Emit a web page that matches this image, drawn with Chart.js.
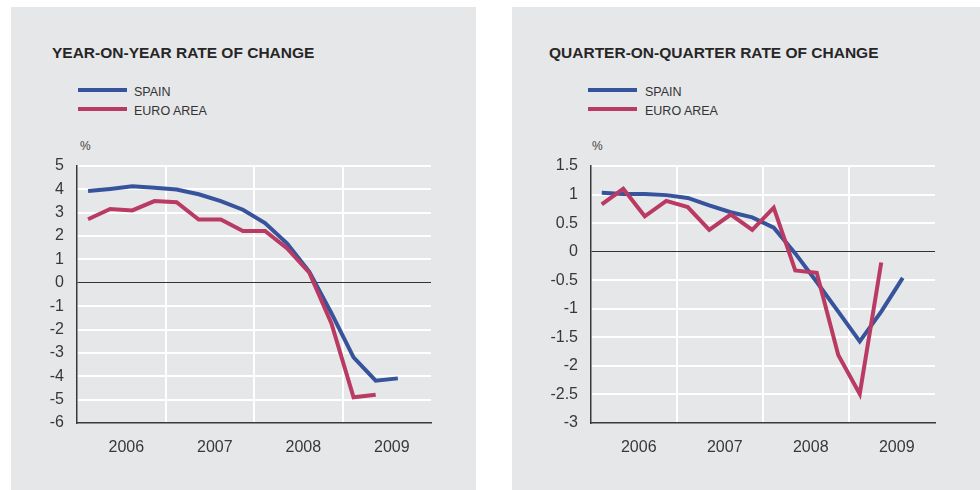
<!DOCTYPE html>
<html>
<head>
<meta charset="utf-8">
<script src="https://cdn.jsdelivr.net/npm/chart.js@4.4.1/dist/chart.umd.min.js"></script>
<style>
  body { margin:0; width:980px; height:490px; background:#fff; position:relative; overflow:hidden;
         font-family:'Liberation Sans', Arial, sans-serif; }
  .panel { position:absolute; top:7px; height:483px; background:#e6e7e9; }
  .title { position:absolute; top:44px; font-size:15.5px; font-weight:bold; color:#262626; white-space:nowrap; line-height:18px; }
  .key { position:absolute; width:49px; height:4px; }
  .keytext { position:absolute; font-size:12.5px; color:#333; line-height:14px; white-space:nowrap; }
  .unit { position:absolute; top:139px; font-size:12px; color:#444; }
  canvas { position:absolute; top:140px; }
</style>
</head>
<body>
<div class="panel" style="left:11px;width:465px"></div>
<div class="panel" style="left:512px;width:468px"></div>

<div class="title" style="left:52px">YEAR-ON-YEAR RATE OF CHANGE</div>
<div class="key" style="left:78px;top:88px;background:#36539c"></div>
<div class="keytext" style="left:134px;top:85px">SPAIN</div>
<div class="key" style="left:78px;top:107px;background:#b93a63"></div>
<div class="keytext" style="left:134px;top:104px">EURO AREA</div>
<div class="unit" style="left:80px">%</div>

<div class="title" style="left:549px">QUARTER-ON-QUARTER RATE OF CHANGE</div>
<div class="key" style="left:588px;top:88px;background:#36539c"></div>
<div class="keytext" style="left:645px;top:85px">SPAIN</div>
<div class="key" style="left:588px;top:107px;background:#b93a63"></div>
<div class="keytext" style="left:645px;top:104px">EURO AREA</div>
<div class="unit" style="left:592px">%</div>

<canvas id="yoy" width="465" height="330" style="left:11px"></canvas>
<canvas id="qoq" width="468" height="330" style="left:512px"></canvas>

<script>
// quarters 2006 Q1 .. 2009 Q4, one year label per four quarters
const quarters = ['2006 Q1','2006 Q2','2006 Q3','2006 Q4','2007 Q1','2007 Q2','2007 Q3','2007 Q4',
                  '2008 Q1','2008 Q2','2008 Q3','2008 Q4','2009 Q1','2009 Q2','2009 Q3','2009 Q4'];
const years = ['2006', '2007', '2008', '2009'];

// year-on-year rate of change (%)
const yoySpain = [3.93, 4.02, 4.13, 4.07, 3.99, 3.79, 3.5, 3.13, 2.56, 1.68, 0.47, -1.3, -3.19, -4.19, -4.09];
const yoyEuro  = [2.72, 3.16, 3.1, 3.5, 3.45, 2.71, 2.71, 2.22, 2.22, 1.47, 0.43, -1.74, -4.9, -4.79];

// quarter-on-quarter rate of change (%)
const qoqSpain = [1.03, 1.01, 1.01, 0.99, 0.94, 0.81, 0.69, 0.6, 0.42, -0.03, -0.53, -1.05, -1.57, -1.05, -0.46];
const qoqEuro  = [0.83, 1.1, 0.62, 0.89, 0.78, 0.38, 0.65, 0.38, 0.77, -0.33, -0.37, -1.81, -2.49, -0.19];

const BLUE = '#36539c';
const RED = '#b93a63';
const AXIS = '#3a3a3a';

Chart.defaults.font.family = "'Liberation Sans', Arial, sans-serif";

function makeChart(id, spain, euro, yMin, yMax, yStep, yWidth) {
  return new Chart(document.getElementById(id), {
    type: 'line',
    data: {
      labels: quarters,
      datasets: [
        { label: 'EURO AREA', data: euro, borderColor: RED, borderWidth: 4, pointRadius: 0, tension: 0, order: 0 },
        { label: 'SPAIN', data: spain, borderColor: BLUE, borderWidth: 4, pointRadius: 0, tension: 0, order: 1 }
      ]
    },
    options: {
      responsive: false,
      animation: false,
      devicePixelRatio: 1,
      layout: { padding: { top: 26, right: 45, left: 0, bottom: 0 } },
      plugins: { legend: { display: false }, tooltip: { enabled: false } },
      scales: {
        x: {
          offset: true,
          grid: {
            offset: true,
            drawTicks: false,
            lineWidth: 2,
            color: c => (c.index > 0 && c.index % 4 === 0) ? '#ffffff' : 'rgba(0,0,0,0)'
          },
          border: { color: AXIS, width: 1.5 },
          ticks: {
            autoSkip: false, maxRotation: 0, padding: 15, labelOffset: -6,
            color: '#383838', font: { size: 16 },
            callback: (v, i) => i % 4 === 2 ? years[Math.floor(i / 4)] : ''
          },
          afterFit: s => { s.height = 47; }
        },
        y: {
          min: yMin, max: yMax,
          grid: {
            drawTicks: false,
            color: c => c.tick.value === 0 ? '#333333' : (c.tick.value === yMin ? 'rgba(0,0,0,0)' : '#ffffff'),
            lineWidth: c => c.tick.value === 0 ? 1 : 2
          },
          border: { color: AXIS, width: 1.5 },
          ticks: {
            stepSize: yStep, padding: 13, color: '#383838', font: { size: 16 },
            callback: v => String(v)
          },
          afterFit: s => { s.width = yWidth; }
        }
      }
    }
  });
}

makeChart('yoy', yoySpain, yoyEuro, -6, 5, 1, 66);
makeChart('qoq', qoqSpain, qoqEuro, -3, 1.5, 0.5, 79);
</script>
</body>
</html>
